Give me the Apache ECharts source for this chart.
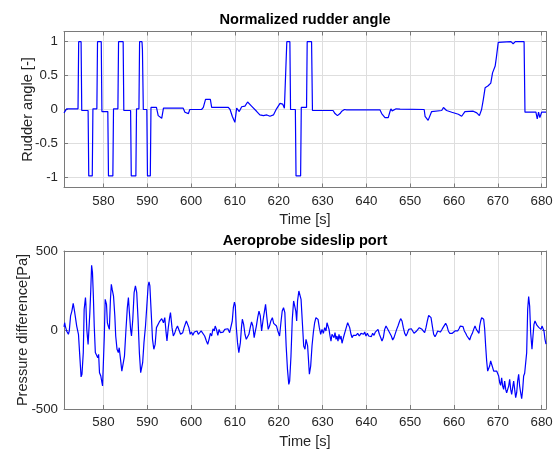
<!DOCTYPE html>
<html>
<head>
<meta charset="utf-8">
<script src="https://cdn.jsdelivr.net/npm/echarts@6/dist/echarts.min.js"></script>
<style>
html,body{margin:0;padding:0;background:#fff;}
#chart{width:558px;height:450px;}
</style>
</head>
<body>
<div id="chart"></div>
<script>
//坐标轴刻度
var timeTicks = [580, 590, 600, 610, 620, 630, 640, 650, 660, 670, 680];
var rudderTicks = [-1, -0.5, 0, 0.5, 1];
var pressureTicks = [-500, 0, 500];

//归一化舵角
var rudderTime = [571.0, 571.3, 571.6, 574.2, 574.35, 574.9, 575.05, 576.5, 576.65, 577.45, 577.6, 578.5, 578.65, 579.5, 579.65,
	581.0, 581.15, 582.15, 582.3, 583.3, 583.45, 584.5, 584.65, 586.2, 586.35, 587.4, 587.55, 588.1, 588.25, 588.8, 588.9, 589.1,
	589.9, 590.05, 590.7, 590.85, 592.1, 592.5, 592.9, 593.3, 593.7, 598.2, 598.6, 599.0, 599.4, 599.7, 602.4, 602.8, 603.3, 604.4,
	604.7, 608.5, 608.9, 609.4, 610.0, 610.4, 611.0, 611.2, 611.55, 612.3, 612.9, 613.8, 615.0, 615.7, 616.5, 617.3, 618.0, 618.8,
	619.5, 620.3, 620.9, 621.3, 621.7, 621.85, 622.55, 622.7, 623.8, 623.95, 625.0, 625.15, 626.35, 626.5, 627.5, 627.7, 632.4,
	632.85, 633.4, 634.0, 634.4, 635.0, 635.5, 643.1, 643.5, 644.25, 645.0, 645.4, 645.6, 645.9, 646.15, 646.8, 647.7, 653.2, 653.4,
	654.1, 654.9, 657.2, 657.6, 658.3, 659.5, 661.0, 661.75, 662.5, 664.4, 665.2, 665.8, 666.3, 666.7, 667.1, 667.8, 668.4, 668.8,
	669.4, 669.7, 670.1, 673.0, 673.5, 674.0, 676.0, 676.2, 678.7, 679.0, 679.3, 679.6, 680.0, 681.0];
var rudderAngle = [-0.05, -0.05, 0.01, 0.01, 1.0, 1.0, -0.015, -0.015, -0.98, -0.98, 0.01, 0.01, 1.0, 1.0, -0.03,
	-0.03, -0.98, -0.98, 0.01, 0.01, 1.0, 1.0, -0.015, -0.015, -0.98, -0.98, 0.01, 0.01, 1.0, 1.0, 0.88, 0.0,
	0.0, -0.98, -0.98, 0.03, 0.03, -0.09, -0.07, -0.13, 0.02, 0.02, -0.04, -0.02, -0.06, 0.0, 0.0, 0.03, 0.15, 0.15,
	0.03, 0.03, 0.0, -0.1, -0.19, 0.02, -0.03, -0.04, 0.04, 0.05, 0.11, 0.05, -0.03, -0.08, -0.09, -0.08, -0.1, -0.08,
	0.01, 0.09, 0.08, 0.02, 0.02, 1.0, 1.0, 0.0, 0.0, -0.98, -0.98, 0.03, 0.03, 1.0, 1.0, -0.015, -0.015,
	-0.06, -0.09, -0.06, -0.025, 0.0, -0.005, -0.005, -0.06, -0.12, -0.12, -0.03, 0.01, -0.02, 0.0, 0.01, 0.005, 0.0, -0.1,
	-0.16, -0.03, -0.015, 0.03, -0.015, -0.04, -0.07, -0.1, -0.03, -0.025, -0.05, -0.09, 0.0, 0.15, 0.32, 0.35, 0.39, 0.54,
	0.64, 0.78, 0.99, 1.0, 0.97, 1.0, 1.0, -0.04, -0.04, -0.14, -0.04, -0.12, -0.04, -0.04];

//侧滑压差
var pressureTime = [571.0, 571.15, 571.3, 571.6, 572.0, 572.2, 572.5, 572.8, 573.1, 573.4, 573.7, 573.9, 574.3, 574.65, 574.9,
	575.1, 575.4, 575.6, 575.9, 576.0, 576.2, 576.5, 576.6, 576.9, 577.1, 577.3, 577.5, 577.7, 577.9, 578.15, 578.45, 578.7,
	578.9, 579.1, 579.4, 579.6, 579.8, 580.0, 580.2, 580.4, 580.7, 580.9, 581.1, 581.35, 581.6, 581.8, 582.0, 582.3, 582.6,
	582.8, 583.1, 583.4, 583.6, 583.9, 584.2, 584.5, 584.8, 585.1, 585.45, 585.7, 585.9, 586.2, 586.4, 586.7, 587.0, 587.3,
	587.6, 587.9, 588.2, 588.5, 588.7, 588.95, 589.25, 589.6, 589.9, 590.2, 590.4, 590.6, 590.9, 591.2, 591.5, 591.8, 592.1,
	592.45, 592.75, 593.05, 593.3, 593.7, 594.0, 594.3, 594.5, 594.8, 595.1, 595.3, 595.65, 595.95, 596.25, 596.55, 596.9,
	597.2, 597.6, 598.1, 598.4, 598.54, 598.92, 599.2, 599.5, 599.8, 600.1, 600.4, 600.75, 601.05, 601.35, 601.65, 601.96,
	602.3, 602.7, 603.1, 603.5, 603.8, 604.1, 604.4, 604.7, 605.0, 605.3, 605.5, 605.8, 606.1, 606.4, 606.7, 607.0, 607.3,
	607.7, 608.05, 608.4, 608.8, 609.2, 609.4, 609.65, 609.9, 610.1, 610.3, 610.6, 610.9, 611.25, 611.5, 611.7, 612.0, 612.3,
	612.6, 612.9, 613.2, 613.5, 613.8, 614.1, 614.4, 614.6, 614.9, 615.2, 615.5, 615.8, 616.1, 616.4, 616.7, 617.0, 617.3,
	617.6, 617.9, 618.2, 618.55, 618.85, 619.15, 619.5, 619.8, 620.2, 620.5, 620.8, 621.1, 621.4, 621.7, 622.0, 622.3, 622.5,
	622.8, 623.1, 623.4, 623.6, 623.9, 624.1, 624.3, 624.6, 624.8, 625.1, 625.4, 625.7, 626.0, 626.23, 626.6, 627.0, 627.3,
	627.6, 627.9, 628.2, 628.5, 628.7, 628.97, 629.27, 629.58, 629.88, 630.19, 630.49, 630.79, 631.02, 631.25, 631.48, 631.71,
	631.93, 632.16, 632.39, 632.62, 632.85, 633.08, 633.3, 633.53, 633.76, 633.99, 634.22, 634.45, 634.67, 634.98, 635.2,
	635.51, 635.74, 635.97, 636.2, 636.5, 636.73, 637.03, 637.34, 637.64, 638.02, 638.4, 638.78, 639.16, 639.39, 639.62,
	639.92, 640.23, 640.53, 640.83, 641.14, 641.44, 641.75, 642.05, 642.36, 642.66, 642.97, 643.27, 643.57, 643.88, 644.18,
	644.49, 644.79, 645.1, 645.4, 645.7, 646.01, 646.31, 646.62, 646.92, 647.22, 647.53, 647.83, 648.14, 648.44, 648.75,
	649.05, 649.35, 649.66, 649.96, 650.27, 650.57, 650.88, 651.18, 651.48, 651.79, 652.09, 652.4, 652.7, 653.0, 653.31,
	653.61, 653.92, 654.22, 654.53, 654.76, 655.06, 655.36, 655.67, 655.97, 656.28, 656.58, 656.89, 657.19, 657.49, 657.8,
	658.1, 658.41, 658.71, 659.02, 659.32, 659.62, 659.93, 660.23, 660.54, 660.84, 661.15, 661.45, 661.75, 662.06, 662.36,
	662.67, 662.97, 663.28, 663.58, 663.88, 664.19, 664.49, 664.8, 665.1, 665.41, 665.71, 665.86, 666.09, 666.32, 666.55,
	666.78, 667.0, 667.23, 667.46, 667.69, 667.92, 668.14, 668.37, 668.6, 668.83, 669.06, 669.29, 669.51, 669.74, 669.97,
	670.2, 670.43, 670.65, 670.88, 671.11, 671.34, 671.57, 671.8, 672.02, 672.25, 672.48, 672.71, 672.94, 673.17, 673.39,
	673.62, 673.85, 674.08, 674.31, 674.53, 674.76, 674.99, 675.22, 675.45, 675.68, 675.9, 676.13, 676.36, 676.59, 676.82,
	677.04, 677.27, 677.5, 677.8, 678.03, 678.26, 678.49, 678.72, 678.95, 679.17, 679.4, 679.63, 679.86, 680.09, 680.32,
	680.54, 680.77, 681.0];
var pressureDiff = [20, 46, 25, -6, -27, -6, 89, 120, 169, 120, 110, 25, -27, -186, -297,
	-281, -143, 131, 205, 162, 4, -91, -101, 110, 247, 409, 363, 215, 25, -143, -154, -175,
	-154, -270, -291, -323, -354, -196, -38, 194, 162, 46, 25, 4, 194, 289, 257, 215, 89,
	-38, -122, -143, -112, -186, -260, -260, -165, -17, 141, 205, 120, 4, -38, 68, 236, 279,
	236, 68, -143, -270, -281, -207, -80, 25, 152, 279, 304, 279, 110, -59, -122, -91, 15,
	25, 51, 51, 72, 46, 78, -17, -70, 15, 78, 110, 15, -38, -21, 4, 25,
	15, -27, -17, 15, 25, 57, 63, 15, -27, -13, -34, -13, -21, -6, -27, -17,
	-6, -13, -38, -70, -91, -59, -21, -38, 8, -6, 25, 4, -34, 4, -17, -6, -13,
	4, -6, 8, -17, -6, 57, 141, 177, 152, 25, -80, -143, -80, 15, 68, 36, -27,
	-59, -70, -27, 15, 51, 25, -48, -17, 25, 78, 120, 89, -6, 57, 110, 162, 78,
	4, 25, 57, 78, 42, 36, 25, -6, -38, 46, 120, 141, 110, -101, -249, -344, -323,
	-165, 68, 184, 194, 120, 57, 184, 247, 257, 194, 46, -101, -122, -59, -101, -280, -228,
	-101, -17, 46, 78, 84, 67, 15, -27, 4, -21, 15, -6, 46, 57, 4, -38,
	-70, -27, -21, -48, -17, -59, -38, -70, -27, -59, -38, -84, -59, -27, -6,
	25, 46, 51, 15, -27, -48, -34, -42, -34, -21, -38, -21, -17, -27, -13,
	-38, -21, -38, -27, -42, -21, -34, -13, -21, 4, -27, -48, -70, -48, 4,
	25, 15, -6, -13, -38, -63, -48, -21, 4, 25, 51, 72, 57, 15, -21,
	-38, -21, 4, 15, 8, 0, -21, -27, -6, 4, 15, 25, 4, -6, -17,
	15, 57, 93, 99, 78, 25, -27, -42, -27, -6, 0, -13, 0, 15, 25,
	42, 25, -6, -21, -27, -21, -13, -6, 0, -6, 8, 25, 36, 21, -6,
	-21, -38, -48, -63, -38, -21, 4, 25, 4, -6, -21, 25, 57, 78, 78,
	68, 8, -101, -196, -260, -266, -228, -196, -207, -238, -260, -266, -270, -260, -270,
	-291, -333, -350, -302, -355, -376, -323, -376, -397, -407, -355, -312, -376, -407, -365,
	-323, -376, -428, -397, -323, -281, -355, -397, -435, -376, -291, -274, -270, -143, 131,
	211, 152, -17, -122, -38, 36, 57, 46, 29, 36, 15, 25, 4, 25, 29,
	-6, -59, -90];

function zip(xs, ys){
	var out = [];
	for(var i = 0; i < xs.length; i++){
		out.push([xs[i], ys[i]]);
	}
	return out;
}

var fontName = 'Liberation Sans';
var axisColor = '#7a7a7a';
var gridColor = '#dedede';
var textColor = '#262626';
var tickFont = 13.3;
var labelFont = 14.6;

//底部/顶部时间轴
function timeAxis(gridIndex, pos, showLabel){
	return {
		type: 'value',
		gridIndex: gridIndex,
		position: pos,
		min: 571,
		max: 681,
		name: showLabel ? 'Time [s]' : '',
		nameLocation: 'middle',
		nameGap: 25,
		nameMoveOverlap: false,
		nameTextStyle: {color: textColor, fontSize: labelFont, fontFamily: fontName},
		axisLine: {show: true, onZero: false, lineStyle: {color: axisColor, width: 1}},
		axisTick: {show: true, inside: true, length: 4, customValues: timeTicks, lineStyle: {color: axisColor}},
		axisLabel: {show: showLabel, customValues: timeTicks, margin: 7, color: textColor, fontSize: tickFont, fontFamily: fontName},
		splitLine: {show: showLabel, lineStyle: {color: gridColor, width: 1}}
	};
}
function valueAxis(gridIndex, pos, min, max, ticks, name, gap, showLabel){
	return {
		type: 'value',
		gridIndex: gridIndex,
		position: pos,
		min: min,
		max: max,
		name: showLabel ? name : '',
		nameLocation: 'middle',
		nameGap: gap,
		nameMoveOverlap: false,
		nameTextStyle: {color: textColor, fontSize: labelFont, fontFamily: fontName},
		axisLine: {show: true, onZero: false, lineStyle: {color: axisColor, width: 1}},
		axisTick: {show: true, inside: true, length: 4, customValues: ticks, lineStyle: {color: axisColor}},
		axisLabel: {show: showLabel, customValues: ticks, margin: 6, color: textColor, fontSize: tickFont, fontFamily: fontName},
		splitLine: {show: showLabel, lineStyle: {color: gridColor, width: 1}}
	};
}

var chart = echarts.init(document.getElementById('chart'), null, {renderer: 'canvas'});
var option = {
	animation: false,
	backgroundColor: '#ffffff',
	title: [{
		text: 'Normalized rudder angle',
		left: 305, top: 12, textAlign: 'center', padding: 0,
		textStyle: {fontSize: labelFont, fontWeight: 'bold', color: '#000', fontFamily: fontName}
	}, {
		text: 'Aeroprobe sideslip port',
		left: 305, top: 233.5, textAlign: 'center', padding: 0,
		textStyle: {fontSize: labelFont, fontWeight: 'bold', color: '#000', fontFamily: fontName}
	}],
	grid: [
		{left: 64, top: 31.5, width: 482, height: 156, outerBoundsMode: 'none'},
		{left: 64, top: 251, width: 482, height: 158, outerBoundsMode: 'none'}
	],
	xAxis: [
		timeAxis(0, 'bottom', true),
		timeAxis(0, 'top', false),
		timeAxis(1, 'bottom', true),
		timeAxis(1, 'top', false)
	],
	yAxis: [
		valueAxis(0, 'left', -1.15, 1.15, rudderTicks, 'Rudder angle [-]', 28.5, true),
		valueAxis(0, 'right', -1.15, 1.15, rudderTicks, '', 30, false),
		valueAxis(1, 'left', -500, 500, pressureTicks, 'Pressure difference[Pa]', 34, true),
		valueAxis(1, 'right', -500, 500, pressureTicks, '', 36, false)
	],
	series: [{
		type: 'line',
		xAxisIndex: 0,
		yAxisIndex: 0,
		showSymbol: false,
		clip: true,
		lineStyle: {color: '#0000ff', width: 1.2},
		data: zip(rudderTime, rudderAngle)
	}, {
		type: 'line',
		xAxisIndex: 2,
		yAxisIndex: 2,
		showSymbol: false,
		clip: true,
		lineStyle: {color: '#0000ff', width: 1.2},
		data: zip(pressureTime, pressureDiff)
	}]
};
chart.setOption(option);
</script>
</body>
</html>
